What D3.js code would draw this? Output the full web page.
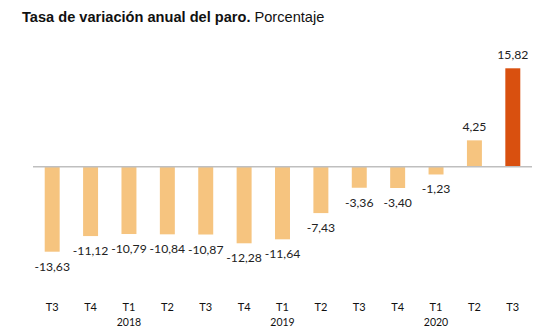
<!DOCTYPE html>
<html>
<head>
<meta charset="utf-8">
<script src="https://cdn.jsdelivr.net/npm/d3@7"></script>
<style>
  html, body { margin: 0; padding: 0; background: #fff; }
  svg { display: block; }
</style>
</head>
<body>
<div id="chart"></div>
<script>
// datos
const quarters = ['T3', 'T4', 'T1', 'T2', 'T3', 'T4', 'T1', 'T2', 'T3', 'T4', 'T1', 'T2', 'T3'];
const years = ['', '', '2018', '', '', '', '2019', '', '', '', '2020', '', ''];
const values = [-13.63, -11.12, -10.79, -10.84, -10.87, -12.28, -11.64, -7.43, -3.36, -3.40, -1.23, 4.25, 15.82];
const highlight = [false, false, false, false, false, false, false, false, false, false, false, false, true];

const width = 559, height = 332;
const margin = { top: 0, left: 33, right: 27 };

const svg = d3.select('#chart').append('svg')
  .attr('width', width)
  .attr('height', height);

// titulo
const title = svg.append('text')
  .attr('x', 22)
  .attr('y', 22)
  .attr('font-family', 'Liberation Sans, Arial, sans-serif')
  .attr('font-size', 14.6)
  .attr('fill', '#111');
title.append('tspan').attr('font-weight', 'bold').text('Tasa de variación anual del paro.');
title.append('tspan').text(' Porcentaje');

// escalas
const idx = values.map((d, i) => i);
const x = d3.scaleBand()
  .domain(idx)
  .range([margin.left, width - margin.right])
  .paddingInner(0.61)
  .paddingOuter(0.305);

const y = d3.scaleLinear()
  .domain([-13.63, 15.82])
  .range([251.7, 68.3]);

// barras
svg.selectAll('.bar')
  .data(values)
  .join('rect')
  .attr('class', 'bar')
  .attr('x', (d, i) => x(i))
  .attr('width', x.bandwidth())
  .attr('y', d => y(Math.max(0, d)))
  .attr('height', d => Math.abs(y(d) - y(0)))
  .attr('fill', (d, i) => highlight[i] ? '#D9500F' : '#F6C47F');

// linea del cero
svg.append('line')
  .attr('x1', margin.left)
  .attr('x2', width - margin.right)
  .attr('y1', y(0))
  .attr('y2', y(0))
  .attr('stroke', '#BFBFBF')
  .attr('stroke-width', 1.5);

// etiquetas
const fmt = v => v.toFixed(2).replace('.', ',');
svg.selectAll('.label')
  .data(values)
  .join('text')
  .attr('class', 'label')
  .attr('x', (d, i) => x(i) + x.bandwidth() / 2)
  .attr('y', d => d < 0 ? y(d) + 19 : y(d) - 9)
  .attr('text-anchor', 'middle')
  .attr('font-family', 'Lato, Open Sans, sans-serif')
  .attr('font-size', 12.2)
  .attr('fill', '#222')
  .text(d => fmt(d));

// eje x
svg.selectAll('.tick-q')
  .data(quarters)
  .join('text')
  .attr('class', 'tick-q')
  .attr('x', (d, i) => x(i) + x.bandwidth() / 2)
  .attr('y', 311)
  .attr('text-anchor', 'middle')
  .attr('font-family', 'Lato, Open Sans, sans-serif')
  .attr('font-size', 11)
  .attr('fill', '#111')
  .text(d => d);

svg.selectAll('.tick-y')
  .data(years)
  .join('text')
  .attr('class', 'tick-y')
  .attr('x', (d, i) => x(i) + x.bandwidth() / 2)
  .attr('y', 326)
  .attr('text-anchor', 'middle')
  .attr('font-family', 'Lato, Open Sans, sans-serif')
  .attr('font-size', 10.5)
  .attr('fill', '#111')
  .text(d => d);
</script>
</body>
</html>
